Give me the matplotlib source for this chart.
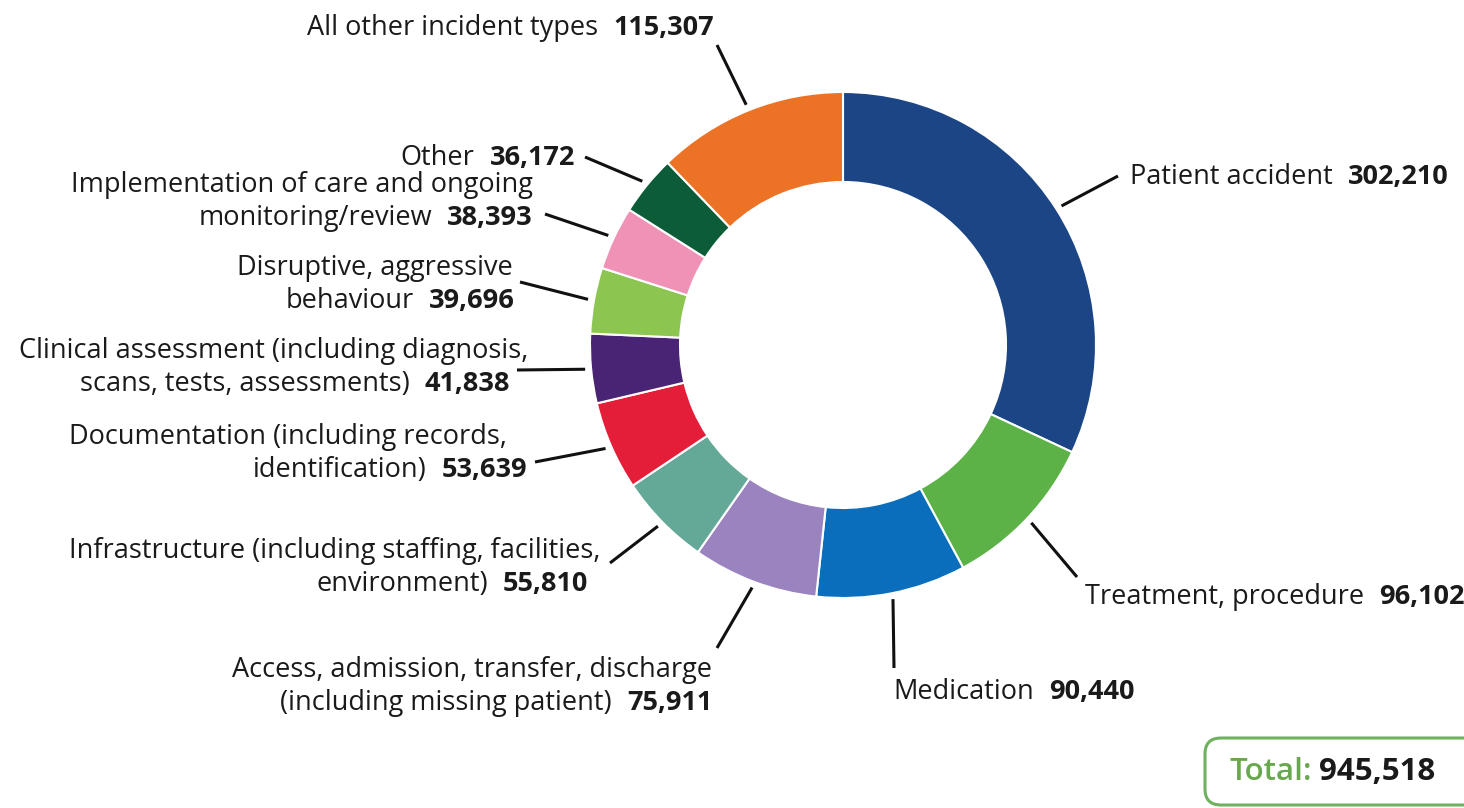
import numpy as np
import matplotlib
matplotlib.use('Agg')
import matplotlib.pyplot as plt
from matplotlib.patches import FancyBboxPatch

plt.rcParams['font.family'] = ['Open Sans', 'DejaVu Sans']

W, H = 1464, 808

# incident categories, clockwise from 12 o'clock
categories = [
    ['Patient accident'],
    ['Treatment, procedure'],
    ['Medication'],
    ['Access, admission, transfer, discharge', '(including missing patient)'],
    ['Infrastructure (including staffing, facilities,', 'environment)'],
    ['Documentation (including records,', 'identification)'],
    ['Clinical assessment (including diagnosis,', 'scans, tests, assessments)'],
    ['Disruptive, aggressive', 'behaviour'],
    ['Implementation of care and ongoing', 'monitoring/review'],
    ['Other'],
    ['All other incident types'],
]
counts = [302210, 96102, 90440, 75911, 55810, 53639, 41838, 39696, 38393, 36172, 115307]
colors = ['#1b4585', '#5cb247', '#0a6ebd', '#9b83bf', '#64a898', '#e41e38',
          '#4a2474', '#8cc651', '#ef92b5', '#0d5c38', '#ec7225']

# label layout in pixels: (align, x per line, y of first line, leader end)
label_pos = [
    ('left',  [1130],      177, (1118, 176)),
    ('left',  [1085],      597, (1077, 577)),
    ('left',  [893],       692, (894, 668)),
    ('right', [712, 712],  670, (717, 648)),
    ('right', [600, 588],  551, (610, 563)),
    ('right', [507, 527],  437, (535, 462)),
    ('right', [528, 510],  351, (517, 370)),
    ('right', [513, 515],  268, (520, 282)),
    ('right', [533, 533],  185, (545, 214)),
    ('right', [575],       158, (585, 157)),
    ('right', [714],        28, (717, 45)),
]

CX, CY = 843, 345
R_OUT, RING = 253, 90
LINE_H = 33
FS = 19.5
GAP = 15


def yy(py):
    return H - py


fig = plt.figure(figsize=(W / 100, H / 100), dpi=100)
ax = fig.add_axes([0, 0, 1, 1])

wedges, _ = ax.pie(counts, colors=colors, startangle=90, counterclock=False,
                   center=(CX, yy(CY)), radius=R_OUT, frame=True,
                   wedgeprops=dict(width=RING, edgecolor='white', linewidth=1.5))
ax.set_xlim(0, W)
ax.set_ylim(0, H)
ax.axis('off')

fig.canvas.draw()
renderer = fig.canvas.get_renderer()


def text_width(t):
    bb = t.get_window_extent(renderer)
    return bb.width


for wedge, lines, n, (align, xs, y0, end) in zip(wedges, categories, counts, label_pos):
    # leader from the middle of the wedge to the label
    mid = np.deg2rad((wedge.theta1 + wedge.theta2) / 2)
    r0 = R_OUT + 6
    ax.plot([CX + r0 * np.cos(mid), end[0]], [yy(CY) + r0 * np.sin(mid), yy(end[1])],
            color='#111111', lw=2.2, solid_capstyle='butt')

    num = f'{n:,}'
    for i, line in enumerate(lines):
        y = yy(y0 + i * LINE_H)
        x = xs[i]
        last = i == len(lines) - 1
        if align == 'left':
            t = ax.text(x, y, line, fontsize=FS, ha='left', va='center', color='#1a1a1a')
            if last:
                w = text_width(t)
                ax.text(x + w + GAP, y, num, fontsize=FS, ha='left', va='center',
                        fontweight='bold', color='#1a1a1a')
        else:
            if last:
                b = ax.text(x, y, num, fontsize=FS, ha='right', va='center',
                            fontweight='bold', color='#1a1a1a')
                w = text_width(b)
                ax.text(x - w - GAP, y, line, fontsize=FS, ha='right', va='center',
                        color='#1a1a1a')
            else:
                ax.text(x, y, line, fontsize=FS, ha='right', va='center', color='#1a1a1a')

# total box in the bottom right corner
total = sum(counts)
box = FancyBboxPatch((1205, yy(805)), 320, 67, boxstyle='round,pad=0,rounding_size=16',
                     fc='white', ec='#6fb15f', lw=2.2, clip_on=False)
ax.add_patch(box)
tl = ax.text(1229, yy(772), 'Total:', fontsize=22.5, fontweight='semibold', color='#6aa84f',
             ha='left', va='center')
w = text_width(tl)
ax.text(1229 + w + 8, yy(772), f'{total:,}', fontsize=22.5, fontweight='bold',
        color='#1a1a1a', ha='left', va='center')

fig.savefig('out.png', dpi=100)
